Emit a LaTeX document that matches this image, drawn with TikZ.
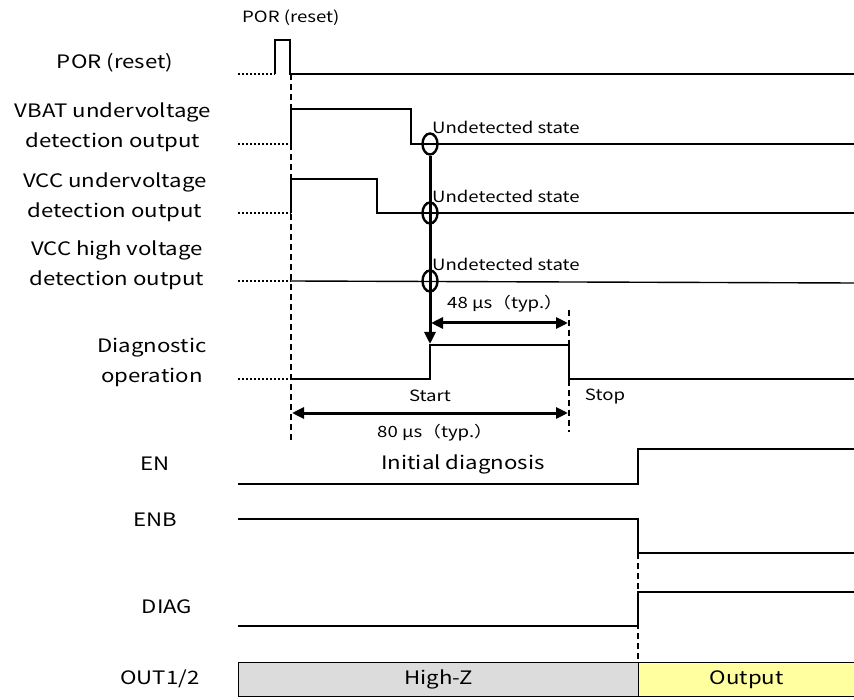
\documentclass[tikz,border=0pt]{standalone}
\usepackage{fontspec}
\setmainfont[FakeStretch=1.2]{Noto Sans CJK JP}
\usetikzlibrary{arrows.meta,shapes.geometric}
\begin{document}
\begin{tikzpicture}[x=1pt,y=-1pt,
  sig/.style={line width=1.4pt},
  dots/.style={line width=1.2pt,dash pattern=on 2pt off 2pt},
  guide/.style={line width=1.2pt,dash pattern=on 6pt off 4pt},
  thick3/.style={line width=3pt},
  lbl/.style={font=\fontsize{18.5}{30}\selectfont,align=center,inner sep=0pt},
  small/.style={font=\fontsize{15.5}{18}\selectfont,inner sep=0pt},
  mid/.style={font=\fontsize{15.5}{18}\selectfont,inner sep=0pt},
  tip/.style={-{Triangle[length=12pt,width=11pt]}},
  both/.style={{Triangle[length=12pt,width=11pt]}-{Triangle[length=12pt,width=11pt]}},
  ell/.style={ellipse,draw,line width=2.4pt,minimum width=15pt,minimum height=21pt,inner sep=0pt}]
\useasboundingbox (0,0) rectangle (854,700);
% left labels
\node[lbl] (lpor) at (115,63) {POR (reset)};
\node[lbl] (lvbat) at (113,127) {VBAT undervoltage\\detection output};
\node[lbl] (lvuv) at (115,197) {VCC undervoltage\\detection output};
\node[lbl] (lvhv) at (117,265) {VCC high voltage\\detection output};
\node[lbl] (ldiag) at (152,362) {Diagnostic\\operation};
\node[lbl] (len) at (155,464) {EN};
\node[lbl] (lenb) at (155,520) {ENB};
\node[lbl] (ldg) at (167,607) {DIAG};
\node[lbl] (lout) at (160,679) {OUT1/2};
% POR
\node[small,anchor=west] (portop) at (242,18) {POR (reset)};
\draw[dots] (238,74) -- (275,74);
\draw[sig] (275,74) -- (275,40) -- (290,40) -- (290,74) -- (854,74);
% guide lines
\draw[guide] (291,74) -- (291,440);
\draw[guide] (569,310) -- (569,432);
\draw[guide] (638,553) -- (638,662);
% VBAT
\draw[dots] (238,144) -- (291,144);
\draw[sig] (291,144) -- (291,109) -- (411,109) -- (411,144) -- (854,144);
% VCC UV
\draw[dots] (238,213) -- (291,213);
\draw[sig] (291,213) -- (291,179) -- (377,179) -- (377,213) -- (854,213);
% VCC HV
\draw[dots] (238,281) -- (291,281);
\draw[sig] (291,281) -- (854,283);
% ellipses and thick arrow
\node[ell] (e1) at (430,144) {};
\node[ell] (e2) at (430,213) {};
\node[ell] (e3) at (430,281) {};
\coordinate (arrEnd) at (430,344);
\draw[thick3,tip] (e1.south) -- (arrEnd);
\node[small,anchor=west] (u1) at (432,127) {Undetected state};
\node[small,anchor=west] (u2) at (432,196) {Undetected state};
\node[small,anchor=west] (u3) at (432,264) {Undetected state};
% Diagnostic
\draw[dots] (238,379) -- (291,379);
\draw[sig] (291,379) -- (430,379) -- (430,345) -- (569,345) -- (569,379) -- (854,379);
% 48 us
\coordinate (a48l) at (431,323);
\coordinate (a48r) at (568,323);
\draw[thick3,both] (a48l) -- (a48r);
\node[mid] (t48) at (505,304) {48 μs（typ.）};
\node[small] (start) at (430,396) {Start};
\node[small] (stop) at (605,396) {Stop};
% 80 us
\coordinate (a80l) at (292,413);
\coordinate (a80r) at (568,413);
\draw[thick3,both] (a80l) -- (a80r);
\node[mid] (t80) at (435,433) {80 μs（typ.）};
% EN
\draw[sig] (238,484) -- (638,484) -- (638,449) -- (854,449);
\node[lbl] (init) at (463,464) {Initial diagnosis};
% ENB
\draw[sig] (238,519) -- (638,519) -- (638,553) -- (854,553);
% DIAG
\draw[sig] (238,626) -- (638,626) -- (638,592) -- (854,592);
% OUT
\node[draw,sig,fill={rgb,255:red,220;green,220;blue,220},minimum width=400pt,minimum height=34pt,inner sep=0pt,anchor=north west,font=\fontsize{18.5}{23}\selectfont] (hiz) at (238,662) {High-Z};
\node[draw,sig,fill={rgb,255:red,255;green,255;blue,160},minimum width=216pt,minimum height=34pt,inner sep=0pt,anchor=north west,font=\fontsize{18.5}{23}\selectfont] (outp) at (638,662) {Output};
\end{tikzpicture}
\end{document}
